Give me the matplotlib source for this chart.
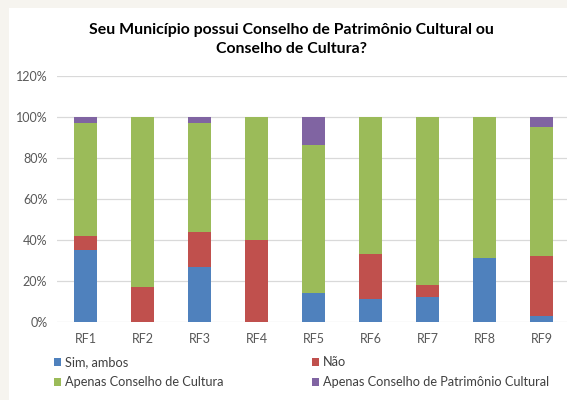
import matplotlib.pyplot as plt
import numpy as np
from matplotlib.patches import Rectangle

# dados (em %)
categorias = ["RF1", "RF2", "RF3", "RF4", "RF5", "RF6", "RF7", "RF8", "RF9"]
sim_ambos = [35, 0, 27, 0, 14, 11, 12, 31, 3]
nao = [7, 17, 17, 40, 0, 22, 6, 0, 29]
apenas_cultura = [55, 83, 53, 60, 72, 67, 82, 69, 63]
apenas_patrimonio = [3, 0, 3, 0, 14, 0, 0, 0, 5]

series = [
    ("Sim, ambos", sim_ambos, "#4f81bd"),
    ("Não", nao, "#c0504d"),
    ("Apenas Conselho de Cultura", apenas_cultura, "#9bbb59"),
    ("Apenas Conselho de Patrimônio Cultural", apenas_patrimonio, "#8064a2"),
]

plt.rcParams['font.family'] = ['Lato', 'DejaVu Sans']

fig = plt.figure(figsize=(5.67, 4.0), dpi=100)
fig.patch.set_facecolor("#f6f4ef")
# area branca do grafico (atras dos eixos)
fig.patches.append(Rectangle((9/567, 0), 1, 1 - 8/400, transform=fig.transFigure,
                             facecolor="white", edgecolor="none", zorder=-10))

ax = fig.add_axes([57/567, 1 - 322/400, (570 - 57)/567, (322 - 75.7)/400])
ax.set_facecolor("none")
ax.set_zorder(5)

x = np.arange(len(categorias))
base = np.zeros(len(categorias))
handles = {}
for nome, valores, cor in series:
    v = np.array(valores) / 100
    b = ax.bar(x, v, 0.4, bottom=base, color=cor, label=nome, zorder=3)
    handles[nome] = b
    base += v

ax.set_xlim(-0.5, 8.5)
ax.set_ylim(0, 1.2)
ax.set_yticks(np.arange(0, 1.21, 0.2))
ax.set_yticklabels([f"{int(round(t*100))}%" for t in np.arange(0, 1.21, 0.2)])
ax.set_xticks(x)
ax.set_xticklabels(categorias)
ax.tick_params(length=0, labelsize=9, colors="#595959")
ax.tick_params(axis="x", pad=8)
ax.tick_params(axis="y", pad=7)
ax.grid(axis="y", color="#d9d9d9", linewidth=0.9, zorder=0)
for s in ax.spines.values():
    s.set_visible(False)

fig.text(291/567, 1 - 39.5/400, "Seu Município possui Conselho de Patrimônio Cultural ou\nConselho de Cultura?",
         ha="center", va="center", fontsize=11.4, fontweight="bold", linespacing=1.5)

ordem = ["Sim, ambos", "Apenas Conselho de Cultura", "Não", "Apenas Conselho de Patrimônio Cultural"]
fig.legend([handles[n] for n in ordem], ordem, ncol=2, loc="upper left",
           bbox_to_anchor=(42/567, 1 - 345/400), frameon=False, fontsize=9.2,
           handlelength=0.6, handleheight=0.6, handletextpad=0.3,
           columnspacing=6.9, labelspacing=0.6, labelcolor="#404040")

fig.savefig("out.png", dpi=100)
